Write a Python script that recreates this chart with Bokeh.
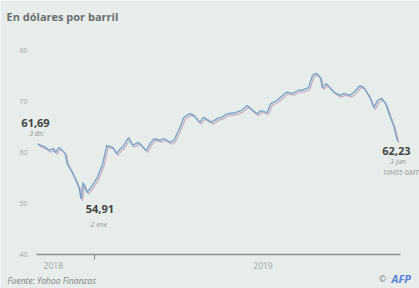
from datetime import datetime, timedelta
import pandas as pd
from bokeh.plotting import figure
from bokeh.models import ColumnDataSource, Range1d, FixedTicker, Label
from bokeh.transform import dodge
from bokeh.embed import file_html
from bokeh.resources import INLINE

# ---- data ----
dates = ["2018-12-03","2018-12-07","2018-12-09","2018-12-11","2018-12-12","2018-12-14","2018-12-17",
         "2018-12-18","2018-12-20","2018-12-22","2018-12-24","2018-12-25","2018-12-26","2018-12-28",
         "2018-12-30","2019-01-02","2019-01-05","2019-01-07","2019-01-10","2019-01-12","2019-01-14",
         "2019-01-15","2019-01-18","2019-01-20","2019-01-23","2019-01-27","2019-01-29","2019-01-31",
         "2019-02-03","2019-02-05","2019-02-08","2019-02-10","2019-02-13","2019-02-15","2019-02-18",
         "2019-02-20","2019-02-23","2019-02-25","2019-03-01","2019-03-04","2019-03-06","2019-03-09",
         "2019-03-13","2019-03-16","2019-03-19","2019-03-22","2019-03-24","2019-03-26","2019-03-29",
         "2019-03-31","2019-04-03","2019-04-06","2019-04-08","2019-04-11","2019-04-14","2019-04-16",
         "2019-04-19","2019-04-21","2019-04-23","2019-04-25","2019-04-26","2019-04-28","2019-05-01",
         "2019-05-02","2019-05-05","2019-05-07","2019-05-10","2019-05-12","2019-05-15","2019-05-17",
         "2019-05-20","2019-05-22","2019-05-24","2019-05-26","2019-05-28","2019-05-30","2019-06-01",
         "2019-06-03"]
prices = [61.69, 61.0, 60.4, 60.8, 60.0, 61.0, 59.8, 57.8, 56.5, 54.9, 53.1, 50.9, 54.1, 52.2, 53.1,
          54.91, 57.8, 61.4, 61.0, 59.8, 60.8, 61.0, 62.9, 61.4, 62.0, 60.4, 61.8, 62.7,
          62.4, 62.7, 62.0, 62.4, 64.9, 66.9, 67.6, 67.3, 65.9, 66.9,
          65.9, 66.7, 66.9, 67.6, 67.8, 68.2, 69.2, 68.2, 67.6, 68.2, 67.8, 69.6,
          70.2, 71.2, 71.8, 71.6, 72.2, 72.2, 72.7, 75.1, 75.5, 74.7, 72.7, 73.5,
          72.2, 71.8, 71.2, 71.6, 71.2, 71.8, 73.1, 72.7, 70.8, 68.8, 70.2, 70.6, 69.6, 67.3,
          65.3, 62.23]
y_ticks = [40, 50, 60, 70, 80]
year_labels = ["2018", "2019"]
year_label_dates = ["2018-12-11", "2019-03-27"]
year_boundary = "2019-01-01"
axis_start = "2018-12-02 12:00"
axis_end = "2019-06-04 12:00"

start_label = ("61,69", "3 dic")
min_label = ("54,91", "2 ene")
end_label = ("62,23", "3 jun", "10H05 GMT")
subtitle = "En dólares por barril"
source_text = "Fuente: Yahoo Finanzas"

BG = "#e6edea"
FONT = "Open Sans"
DAY = 86400000

def ms(d):
    return pd.Timestamp(d).value / 1e6

src = ColumnDataSource(dict(x=pd.to_datetime(dates), y=prices))

d0 = datetime(2018, 12, 3)
p = figure(width=419, height=288, x_axis_type="datetime",
           x_range=Range1d(d0 - timedelta(days=18.71), d0 + timedelta(days=193.12)),
           y_range=Range1d(33.33, 89.8),
           output_backend="svg", toolbar_location=None,
           min_border_left=0, min_border_right=0, min_border_top=0, min_border_bottom=0)
p.background_fill_color = BG
p.border_fill_color = BG
p.outline_line_color = None
p.grid.visible = False

# lines: pinkish misregistration shadow and blue line
p.line(x=dodge("x", 0.7 * DAY, range=p.x_range), y=dodge("y", -0.35, range=p.y_range),
       source=src, line_color="#c8aec0", line_width=1.3)
p.line("x", "y", source=src, line_color="#7ba4c9", line_width=1.4)

# y axis (drawn at the left edge of the data area)
ya = p.yaxis[0]
ya.fixed_location = ms(axis_start)
ya.ticker = FixedTicker(ticks=y_ticks)
ya.axis_line_color = None
ya.major_tick_line_color = None
ya.minor_tick_line_color = None
ya.major_tick_out = 0
ya.major_tick_in = 0
ya.minor_tick_out = 0
ya.major_label_text_font = FONT
ya.major_label_text_font_size = "7px"
ya.major_label_text_color = "#a3a8a8"
ya.major_label_standoff = 9

# x axis (drawn at y = 40)
xa = p.xaxis[0]
xa.fixed_location = y_ticks[0]
xa.bounds = (ms(axis_start), ms(axis_end))
xa.ticker = FixedTicker(ticks=[ms(d) for d in year_label_dates], minor_ticks=[ms(year_boundary)])
xa.major_label_overrides = {ms(d): t for d, t in zip(year_label_dates, year_labels)}
xa.axis_line_color = "#8c9090"
xa.axis_line_width = 1.3
xa.major_tick_line_color = None
xa.major_tick_out = 0
xa.major_tick_in = 0
xa.minor_tick_line_color = "#8c9090"
xa.minor_tick_line_width = 1.2
xa.minor_tick_in = 0
xa.minor_tick_out = 5
xa.major_label_text_font = FONT
xa.major_label_text_font_size = "8.5px"
xa.major_label_text_color = "#a3a8a8"
xa.major_label_standoff = 3

def lab(x, y, text, xo, yo, size, color, style="normal", align="center", base="middle", font=FONT):
    p.add_layout(Label(x=x, y=y, text=text, x_offset=xo, y_offset=yo,
                       text_font=font, text_font_size=size, text_color=color,
                       text_font_style=style, text_align=align, text_baseline=base))

def slab(x, y, text, size, color, style="normal", align="left", base="middle", font=FONT):
    p.add_layout(Label(x=x, y=y, x_units="screen", y_units="screen", text=text,
                       text_font=font, text_font_size=size, text_color=color,
                       text_font_style=style, text_align=align, text_baseline=base))

# start annotation
xs, ys = ms(dates[0]), prices[0]
lab(xs, ys, start_label[0], -2, 21, "11px", "#424444", "bold")
lab(xs, ys, start_label[1], -1, 10, "7px", "#8f9494", "italic")
# min annotation
xm, ym = ms(dates[15]), prices[15]
lab(xm, ym, min_label[0], 3, -31, "11px", "#424444", "bold")
lab(xm, ym, min_label[1], 2, -46, "7px", "#8f9494", "italic")
# end annotation
xe, ye = ms(dates[-1]), prices[-1]
lab(xe, ye, end_label[0], 13, -9.5, "11px", "#424444", "bold", align="right")
lab(xe, ye, end_label[1], 8, -20, "7px", "#8f9494", "italic", align="right")
lab(xe, ye, end_label[2], 21, -31, "7px", "#8f9494", "italic", align="right")

# subtitle, source and credit (screen units, from bottom-left)
slab(6, 272, subtitle, "11px", "#6a6e6e", "bold")
slab(7, 8, source_text, "8.5px", "#7b8080", "italic")
slab(382, 10, "©", "8.5px", "#8c9090", "bold", align="center")
slab(391, 10, "AFP", "11px", "#5a7fd6", "bold italic")

open("out.html", "w").write(file_html(p, INLINE))
